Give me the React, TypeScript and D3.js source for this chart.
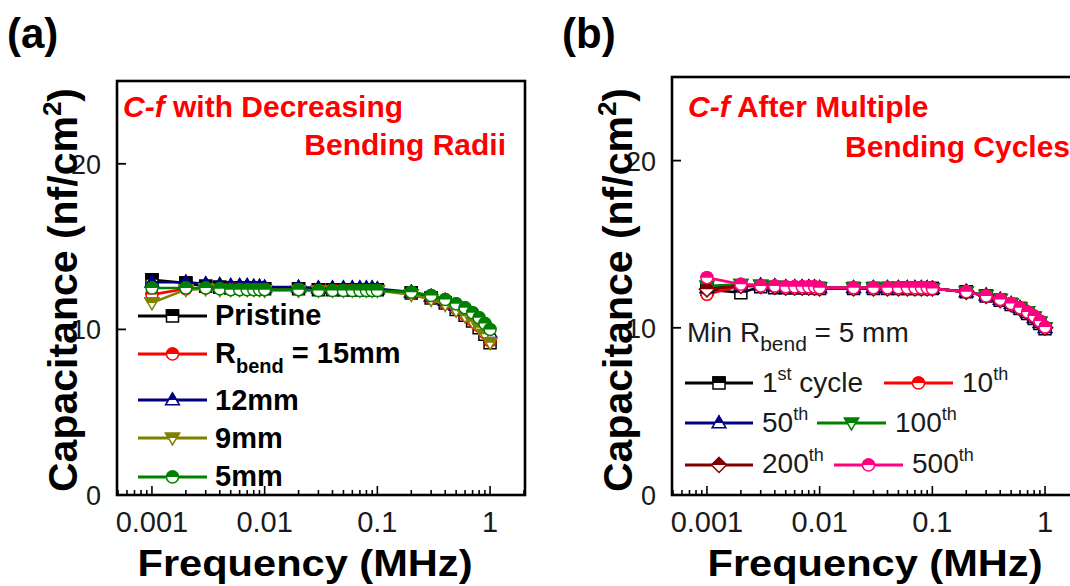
import React from "react";
import * as d3 from "d3";

// ---------- DATA ----------
const freqMHz = [
  0.001, 0.002, 0.003, 0.004, 0.005, 0.006, 0.007, 0.008, 0.009,
  0.01, 0.02, 0.03, 0.04, 0.05, 0.06, 0.07, 0.08, 0.09,
  0.1, 0.2, 0.3, 0.4, 0.5, 0.6, 0.7, 0.8, 0.9, 1,
];

// Panel (a): bending radii
const pristine = [13.0, 12.8, 12.6, 12.55, 12.5, 12.5, 12.5, 12.5, 12.5, 12.45, 12.45, 12.4, 12.4, 12.4, 12.4, 12.4, 12.4, 12.4, 12.4, 12.2, 11.9, 11.6, 11.2, 10.85, 10.5, 10.1, 9.7, 9.2];
const rBend15 = [12.1, 12.45, 12.5, 12.5, 12.5, 12.5, 12.5, 12.5, 12.5, 12.45, 12.45, 12.4, 12.4, 12.4, 12.4, 12.4, 12.4, 12.4, 12.4, 12.2, 11.9, 11.6, 11.25, 10.9, 10.55, 10.2, 9.8, 9.3];
const rBend12 = [12.85, 12.85, 12.75, 12.7, 12.65, 12.65, 12.65, 12.6, 12.6, 12.55, 12.55, 12.5, 12.5, 12.5, 12.5, 12.5, 12.5, 12.5, 12.45, 12.25, 12.0, 11.75, 11.45, 11.15, 10.85, 10.5, 10.15, 9.8];
const rBend9 = [11.6, 12.4, 12.45, 12.4, 12.4, 12.4, 12.4, 12.4, 12.4, 12.35, 12.35, 12.35, 12.35, 12.35, 12.35, 12.35, 12.35, 12.35, 12.35, 12.1, 11.8, 11.5, 11.15, 10.8, 10.45, 10.1, 9.7, 9.2];
const rBend5 = [12.5, 12.5, 12.5, 12.45, 12.4, 12.4, 12.4, 12.4, 12.4, 12.4, 12.4, 12.35, 12.35, 12.35, 12.35, 12.35, 12.35, 12.35, 12.35, 12.25, 12.05, 11.8, 11.55, 11.3, 11.0, 10.7, 10.35, 10.0];

// Panel (b): bending cycles
const cycle1 = [12.3, 12.1, 12.45, 12.4, 12.4, 12.4, 12.4, 12.4, 12.4, 12.35, 12.35, 12.35, 12.35, 12.35, 12.35, 12.35, 12.35, 12.35, 12.35, 12.15, 11.9, 11.65, 11.4, 11.15, 10.85, 10.55, 10.25, 9.95];
const cycle10 = [12.0, 12.5, 12.5, 12.45, 12.4, 12.4, 12.4, 12.4, 12.4, 12.35, 12.35, 12.35, 12.35, 12.35, 12.35, 12.35, 12.35, 12.35, 12.35, 12.15, 11.9, 11.65, 11.4, 11.15, 10.9, 10.6, 10.3, 10.0];
const cycle50 = [12.4, 12.5, 12.55, 12.5, 12.45, 12.45, 12.45, 12.45, 12.45, 12.4, 12.4, 12.4, 12.4, 12.4, 12.4, 12.4, 12.4, 12.4, 12.35, 12.15, 11.95, 11.7, 11.45, 11.2, 10.9, 10.6, 10.3, 10.0];
const cycle100 = [12.5, 12.6, 12.55, 12.5, 12.45, 12.45, 12.45, 12.45, 12.45, 12.4, 12.4, 12.4, 12.4, 12.4, 12.4, 12.4, 12.4, 12.4, 12.35, 12.15, 11.95, 11.7, 11.45, 11.2, 10.95, 10.65, 10.35, 10.0];
const cycle200 = [12.3, 12.5, 12.5, 12.45, 12.4, 12.4, 12.4, 12.4, 12.4, 12.35, 12.35, 12.35, 12.35, 12.35, 12.35, 12.35, 12.35, 12.35, 12.35, 12.15, 11.9, 11.65, 11.4, 11.15, 10.9, 10.6, 10.3, 10.0];
const cycle500 = [13.0, 12.6, 12.5, 12.5, 12.45, 12.45, 12.45, 12.45, 12.45, 12.4, 12.4, 12.4, 12.4, 12.4, 12.4, 12.4, 12.4, 12.4, 12.35, 12.15, 11.9, 11.7, 11.45, 11.2, 10.95, 10.7, 10.4, 10.05];

const xMajorTicks = [0.001, 0.01, 0.1, 1];
const xTickLabels = ["0.001", "0.01", "0.1", "1"];
const yTicks = [0, 10, 20];
const yDomain = [0, 25];
const xDomain = [Math.pow(10, -3.31), Math.pow(10, 0.31)];

type Shape = "square" | "circle" | "triUp" | "triDown" | "diamond";
interface Series { name: string; values: number[]; color: string; shape: Shape }

const seriesA: Series[] = [
  { name: "Pristine", values: pristine, color: "#000000", shape: "square" },
  { name: "15mm", values: rBend15, color: "#ff0000", shape: "circle" },
  { name: "12mm", values: rBend12, color: "#000080", shape: "triUp" },
  { name: "9mm", values: rBend9, color: "#808000", shape: "triDown" },
  { name: "5mm", values: rBend5, color: "#008000", shape: "circle" },
];
const seriesB: Series[] = [
  { name: "1st", values: cycle1, color: "#000000", shape: "square" },
  { name: "10th", values: cycle10, color: "#ff0000", shape: "circle" },
  { name: "50th", values: cycle50, color: "#000080", shape: "triUp" },
  { name: "100th", values: cycle100, color: "#008000", shape: "triDown" },
  { name: "200th", values: cycle200, color: "#800000", shape: "diamond" },
  { name: "500th", values: cycle500, color: "#ff0080", shape: "circle" },
];

const FONT = "'Liberation Sans', Arial, Helvetica, sans-serif";

function shapePath(shape: Shape, r: number): string {
  switch (shape) {
    case "square":
      return `M${-r},${-r}H${r}V${r}H${-r}Z`;
    case "circle":
      return d3.symbol().type(d3.symbolCircle).size(Math.PI * r * r)() as string;
    case "triUp":
      return `M0,${-r * 1.15}L${r * 1.15},${r * 0.8}L${-r * 1.15},${r * 0.8}Z`;
    case "triDown":
      return `M0,${r * 1.15}L${r * 1.15},${-r * 0.8}L${-r * 1.15},${-r * 0.8}Z`;
    case "diamond":
      return `M0,${-r * 1.25}L${r * 1.25},0L0,${r * 1.25}L${-r * 1.25},0Z`;
  }
}

function Marker({ x, y, shape, color, r = 6 }: { x: number; y: number; shape: Shape; color: string; r?: number }) {
  const d = shapePath(shape, r);
  return (
    <g transform={`translate(${x},${y})`}>
      <path d={d} fill="#fff" stroke={color} strokeWidth={1.5} />
      <path d={d} fill={color} stroke={color} strokeWidth={1.5} clipPath="url(#topHalf)" />
    </g>
  );
}

interface PanelProps {
  left: number; top: number; width: number; bottom: number;
  series: Series[]; xTitleCenter: number;
}

function Panel({ left, top, width, bottom, series, xTitleCenter }: PanelProps) {
  const x = d3.scaleLog().domain(xDomain).range([left, left + width]);
  const y = d3.scaleLinear().domain(yDomain).range([bottom, top]);
  const minor: number[] = [];
  for (let k = -4; k <= 0; k++) {
    for (let m = 2; m <= 9; m++) {
      const v = m * Math.pow(10, k);
      if (v > xDomain[0] && v < xDomain[1]) minor.push(v);
    }
  }
  const line = d3.line<number>()
    .x((_, i) => x(freqMHz[i]))
    .y((v) => y(v))
    .curve(d3.curveLinear);
  return (
    <g>
      {series.map((s) => (
        <g key={s.name}>
          <path d={line(s.values) as string} fill="none" stroke={s.color} strokeWidth={2.6} />
          {s.values.map((v, i) => (
            <Marker key={i} x={x(freqMHz[i])} y={y(v)} shape={s.shape} color={s.color} />
          ))}
        </g>
      ))}
      {/* frame */}
      <rect x={left} y={top} width={width} height={bottom - top} fill="none" stroke="#000" strokeWidth={2.6} />
      {/* x ticks */}
      {xMajorTicks.map((t) => (
        <line key={"M" + t} x1={x(t)} x2={x(t)} y1={bottom} y2={bottom - 9} stroke="#000" strokeWidth={1.6} />
      ))}
      {minor.map((t) => (
        <line key={"m" + t} x1={x(t)} x2={x(t)} y1={bottom} y2={bottom - 5} stroke="#000" strokeWidth={1.6} />
      ))}
      {xMajorTicks.map((t, i) => (
        <text key={"L" + t} x={x(t)} y={bottom + 37} textAnchor="middle" fontFamily={FONT} fontSize={29} fill="#1a1a1a">
          {xTickLabels[i]}
        </text>
      ))}
      {/* y ticks */}
      {yTicks.map((t) => (
        <g key={"y" + t}>
          <line x1={left} x2={left + 9} y1={y(t)} y2={y(t)} stroke="#000" strokeWidth={1.8} />
          <text x={left - 16} y={y(t) + 10} textAnchor="end" fontFamily={FONT} fontSize={27} fill="#1a1a1a">
            {t}
          </text>
        </g>
      ))}
      {/* axis titles */}
      <text x={xTitleCenter} y={576} textAnchor="middle" fontFamily={FONT} fontWeight="bold" fontSize={36}
        textLength={335} lengthAdjust="spacingAndGlyphs" fill="#000">
        Frequency (MHz)
      </text>
      <text transform={`translate(${left - 40},290) rotate(-90)`} textAnchor="middle"
        fontFamily={FONT} fontWeight="bold" fontSize={41} fill="#000">
        Capacitance (nf/cm<tspan dy={-16} fontSize={26}>2</tspan><tspan dy={16}>)</tspan>
      </text>
    </g>
  );
}

function LegendRow({ x1, x2, y, shape, color }: { x1: number; x2: number; y: number; shape: Shape; color: string }) {
  return (
    <g>
      <line x1={x1} x2={x2} y1={y} y2={y} stroke={color} strokeWidth={3.2} />
      <Marker x={(x1 + x2) / 2} y={y} shape={shape} color={color} r={6} />
    </g>
  );
}

export default function App() {
  const red = "#ff0000";
  return (
    <svg width={1070} height={586} style={{ position: "absolute", left: 0, top: 0, background: "#fff" }}>
      <defs>
        <clipPath id="topHalf" clipPathUnits="userSpaceOnUse">
          <rect x={-20} y={-20} width={40} height={20} />
        </clipPath>
      </defs>
      <rect x={0} y={0} width={1070} height={586} fill="#fff" />

      {/* panel labels */}
      <text x={7} y={48} fontFamily={FONT} fontWeight="bold" fontSize={42}>(a)</text>
      <text x={562} y={48} fontFamily={FONT} fontWeight="bold" fontSize={42}>(b)</text>

      <Panel left={117} top={81} width={408} bottom={495} series={seriesA} xTitleCenter={305} />
      <Panel left={672} top={77} width={408} bottom={495} series={seriesB} xTitleCenter={875} />

      {/* panel a annotations */}
      <text x={123} y={117} fontFamily={FONT} fontWeight="bold" fontSize={30} fill={red}>
        <tspan fontStyle="italic">C-f</tspan> with Decreasing
      </text>
      <text x={506} y={155} textAnchor="end" fontFamily={FONT} fontWeight="bold" fontSize={30} fill={red}>Bending Radii</text>

      {/* panel a legend */}
      <LegendRow x1={138} x2={207} y={316} shape="square" color="#000000" />
      <LegendRow x1={138} x2={207} y={354} shape="circle" color="#ff0000" />
      <LegendRow x1={138} x2={207} y={400} shape="triUp" color="#000080" />
      <LegendRow x1={138} x2={207} y={438} shape="triDown" color="#808000" />
      <LegendRow x1={138} x2={207} y={477} shape="circle" color="#008000" />
      <g fontFamily={FONT} fontWeight="bold" fontSize={29} fill="#000">
        <text x={215} y={325}>Pristine</text>
        <text x={215} y={363}>R<tspan fontSize={20} dy={10}>bend</tspan><tspan dy={-10}> = 15mm</tspan></text>
        <text x={215} y={410}>12mm</text>
        <text x={215} y={448}>9mm</text>
        <text x={215} y={486}>5mm</text>
      </g>

      {/* panel b annotations */}
      <text x={688} y={117} fontFamily={FONT} fontWeight="bold" fontSize={30} fill={red}>
        <tspan fontStyle="italic">C-f</tspan> After Multiple
      </text>
      <text x={845} y={157} fontFamily={FONT} fontWeight="bold" fontSize={30} fill={red}>Bending Cycles</text>

      {/* panel b legend */}
      <g fontFamily={FONT} fontSize={28} fill="#1a1a1a">
        <text x={687} y={342}>Min R<tspan fontSize={21} dy={9}>bend</tspan><tspan dy={-9}> = 5 mm</tspan></text>
        <text x={762} y={392}>1<tspan fontSize={18} dy={-12}>st</tspan><tspan dy={12}> cycle</tspan></text>
        <text x={962} y={392}>10<tspan fontSize={18} dy={-12}>th</tspan></text>
        <text x={762} y={432}>50<tspan fontSize={18} dy={-12}>th</tspan></text>
        <text x={895} y={432}>100<tspan fontSize={18} dy={-12}>th</tspan></text>
        <text x={762} y={473}>200<tspan fontSize={18} dy={-12}>th</tspan></text>
        <text x={912} y={473}>500<tspan fontSize={18} dy={-12}>th</tspan></text>
      </g>
      <LegendRow x1={685} x2={753} y={383} shape="square" color="#000000" />
      <LegendRow x1={884} x2={953} y={383} shape="circle" color="#ff0000" />
      <LegendRow x1={685} x2={753} y={423} shape="triUp" color="#000080" />
      <LegendRow x1={817} x2={886} y={423} shape="triDown" color="#008000" />
      <LegendRow x1={685} x2={753} y={465} shape="diamond" color="#800000" />
      <LegendRow x1={834} x2={903} y={465} shape="circle" color="#ff0080" />
    </svg>
  );
}
